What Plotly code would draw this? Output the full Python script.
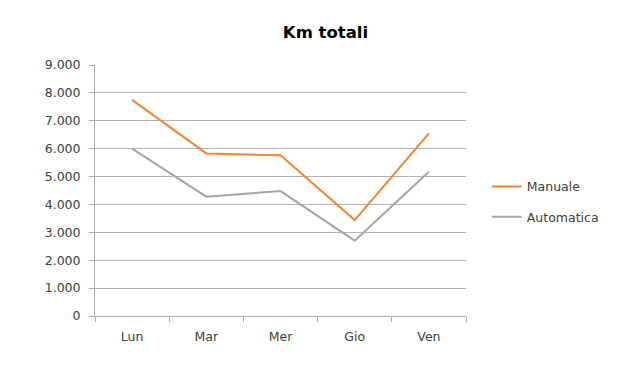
import plotly.graph_objects as go

days = ["Lun", "Mar", "Mer", "Gio", "Ven"]
manuale = [7750, 5830, 5760, 3440, 6550]
automatica = [6000, 4280, 4480, 2700, 5170]
y_ticks = [0, 1000, 2000, 3000, 4000, 5000, 6000, 7000, 8000, 9000]

FONT = "DejaVu Sans"
fig = go.Figure()
fig.add_trace(go.Scatter(x=days, y=manuale, name="Manuale", mode="lines",
                         legendgroup="m",
                         line=dict(color="#F58535", width=2)))
fig.add_trace(go.Scatter(x=days, y=automatica, name="Automatica", mode="lines",
                         legendgroup="a",
                         line=dict(color="#A6A6A6", width=2)))

fig.update_layout(
    width=626, height=380,
    margin=dict(l=95, r=160, t=65, b=64),
    paper_bgcolor="white", plot_bgcolor="white",
    separators=",.",
    font=dict(family=FONT, size=12, color="#404040"),
    title=dict(text="<b>Km totali</b>", x=325.5 / 626, xanchor="center", xref="container",
               y=1 - 32 / 380, yanchor="middle", yref="container",
               font=dict(family=FONT, size=16.5, color="#000000")),
    showlegend=True,
    legend=dict(x=1.056, xanchor="left", y=0.455, yanchor="middle",
                font=dict(family=FONT, size=12.5, color="#404040"),
                tracegroupgap=11, itemwidth=30, bgcolor="rgba(0,0,0,0)"),
    xaxis=dict(type="category", showgrid=False, showline=True, linecolor="#ADADAD",
               linewidth=1, ticks="outside", tickson="boundaries", ticklen=5,
               tickcolor="#ADADAD", zeroline=False, range=[-0.5, 4.5],
               tickfont=dict(family=FONT, size=12.5, color="#404040"),
               ticklabelstandoff=9),
    yaxis=dict(range=[0, 9000], tickvals=y_ticks, tickformat=",d", showgrid=True,
               gridcolor="#B3B3B3", gridwidth=1, showline=True, linecolor="#ADADAD",
               linewidth=1, ticks="outside", ticklen=5, tickcolor="#ADADAD",
               zeroline=False, ticklabelstandoff=6,
               tickfont=dict(family=FONT, size=12.5, color="#404040")),
)

fig.write_html("out.html")
